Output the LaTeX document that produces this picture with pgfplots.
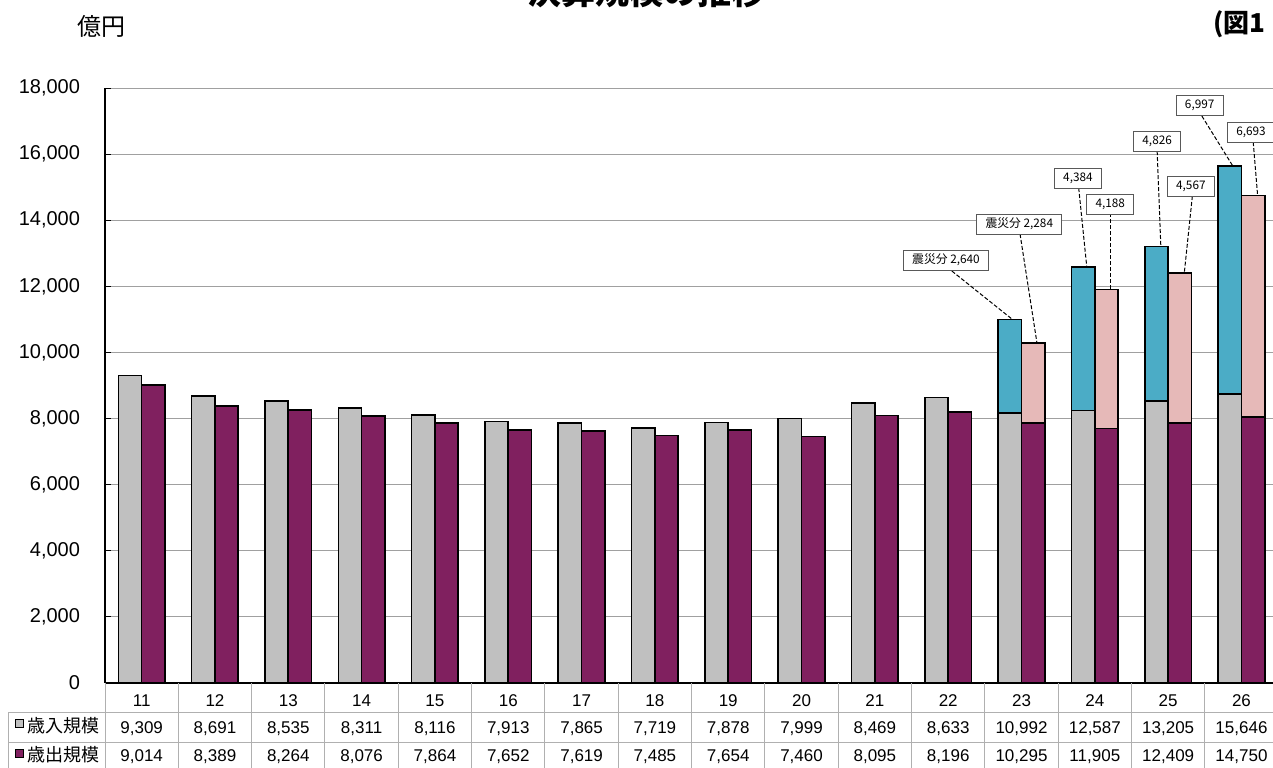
\documentclass[border=0pt]{standalone}
\usepackage{fontspec}
\setmainfont{Liberation Sans}
\newfontfamily\jp{Noto Sans CJK JP}
\usepackage{pgfplots}
\pgfplotsset{compat=1.18}
\definecolor{barGray}{HTML}{C0C0C0}
\definecolor{barPurple}{HTML}{80205F}
\definecolor{quakeBlue}{HTML}{4BACC6}
\definecolor{quakePink}{HTML}{E6B9B8}
\definecolor{gridGray}{HTML}{A0A0A0}
\definecolor{tabGray}{HTML}{B0B0B0}

\begin{document}
\begin{tikzpicture}[
  callout/.style={draw=gray!70!black, fill=white, line width=0.5pt,
    font=\jp\fontsize{5.9}{7}\selectfont, inner xsep=4.3pt, inner ysep=0pt,
    minimum height=10pt},
  leader/.style={black, line width=0.5pt, dash pattern=on 2pt off 1pt},
  bars/.style={ybar, bar width=11.65pt, draw=black, line width=0.8pt}]
\useasboundingbox (0,0) rectangle (636.5pt,-383.5pt);
\clip (0,0) rectangle (636.5pt,-383.5pt);

\begin{axis}[
  at={(52.5pt,-341.5pt)}, anchor=south west,
  scale only axis, width=584pt, height=297.5pt,
  xmin=-0.5, xmax=15.43, ymin=0, ymax=18000,
  clip=false,
  axis x line*=bottom, axis y line*=left,
  axis line style={black, line width=0.6pt},
  ymajorgrids, grid style={gridGray, line width=0.5pt},
  ytick={0,2000,...,18000},
  scaled y ticks=false,
  /pgf/number format/1000 sep={,},
  /pgf/number format/assume math mode=true,
  tick align=inside, major tick length=3pt,
  ytick style={black, line width=0.5pt},
  yticklabel style={anchor=east, xshift=-9pt, font=\fontsize{10}{12}\selectfont},
  xtick={0,...,15},
  xtick style={draw=none},
  xticklabels={{11\\9,309\\9,014},{12\\8,691\\8,389},{13\\8,535\\8,264},
    {14\\8,311\\8,076},{15\\8,116\\7,864},{16\\7,913\\7,652},{17\\7,865\\7,619},
    {18\\7,719\\7,485},{19\\7,878\\7,654},{20\\7,999\\7,460},{21\\8,469\\8,095},
    {22\\8,633\\8,196},{23\\10,992\\10,295},{24\\12,587\\11,905},
    {25\\13,205\\12,409},{26\\15,646\\14,750}},
  xticklabel style={align=center, anchor=north, inner sep=0pt, yshift=-5.6pt,
    font=\fontsize{8.5}{13.75}\selectfont},
]
% revenue: quake part drawn as total, normal part over it
\addplot[bars, bar shift=-5.83pt, fill=quakeBlue] coordinates {
  (12,10992) (13,12587) (14,13205) (15,15646)};
\addplot[bars, bar shift=-5.83pt, fill=barGray] coordinates {
  (0,9309) (1,8691) (2,8535) (3,8311) (4,8116) (5,7913) (6,7865) (7,7719)
  (8,7878) (9,7999) (10,8469) (11,8633) (12,8170) (13,8250) (14,8530) (15,8735)};
% expenditure
\addplot[bars, bar shift=5.83pt, fill=quakePink] coordinates {
  (12,10295) (13,11905) (14,12409) (15,14750)};
\addplot[bars, bar shift=5.83pt, fill=barPurple] coordinates {
  (0,9014) (1,8389) (2,8264) (3,8076) (4,7864) (5,7652) (6,7619) (7,7485)
  (8,7654) (9,7460) (10,8095) (11,8196) (12,7860) (13,7700) (14,7870) (15,8050)};

% table grid
\pgfplotsinvokeforeach{-0.5,0.5,...,15.5}{
  \draw[tabGray, line width=0.5pt] (axis cs:#1,0) -- (axis cs:#1,-3000);
}
\draw[tabGray, line width=0.5pt] (axis cs:-1.81,-877) -- (axis cs:16,-877);
\draw[tabGray, line width=0.5pt] (axis cs:-1.81,-1785) -- (axis cs:16,-1785);
\draw[tabGray, line width=0.5pt] (axis cs:-1.81,-877) -- (axis cs:-1.81,-3000);

% callouts
\draw[leader] (axis cs:11.05,12463) -- (axis cs:11.88,10992);
\node[callout] at (axis cs:10.97,12796) {震災分 2,640};
\draw[leader] (axis cs:11.98,13582) -- (axis cs:12.21,10295);
\node[callout] at (axis cs:11.97,13885) {震災分 2,284};
\draw[leader] (axis cs:12.78,14974) -- (axis cs:12.89,12587);
\node[callout] at (axis cs:12.77,15276) {4,384};
\draw[leader] (axis cs:13.21,14218) -- (axis cs:13.21,11905);
\node[callout] at (axis cs:13.21,14490) {4,188};
\draw[leader] (axis cs:13.85,16093) -- (axis cs:13.90,13205);
\node[callout] at (axis cs:13.85,16396) {4,826};
\draw[leader] (axis cs:14.33,14732) -- (axis cs:14.22,12409);
\node[callout] at (axis cs:14.31,15034) {4,567};
\draw[leader] (axis cs:14.46,17152) -- (axis cs:14.88,15646);
\node[callout] at (axis cs:14.43,17485) {6,997};
\draw[leader] (axis cs:15.16,16365) -- (axis cs:15.22,14750);
\node[callout] at (axis cs:15.13,16668) {6,693};
\end{axis}

% row labels of the table
\draw[black, line width=0.5pt, fill=barGray] (7.5pt,-359.5pt) rectangle (11.5pt,-363.5pt);
\draw[black, line width=0.5pt, fill=barPurple] (7.5pt,-374.5pt) rectangle (11.5pt,-378.5pt);
\node[anchor=west, inner sep=0pt, font=\jp\fontsize{9}{9}\selectfont] at (13.5pt,-363pt) {歳入規模};
\node[anchor=west, inner sep=0pt, font=\jp\fontsize{9}{9}\selectfont] at (13.5pt,-377.5pt) {歳出規模};

% titles
\node[anchor=base, font=\jp\bfseries\fontsize{17}{17}\selectfont] at (323pt,-2pt) {決算規模の推移};
\node[font=\jp\fontsize{12}{12}\selectfont] at (50.5pt,-13pt) {億円};
\node[anchor=west, inner sep=0pt, font=\jp\bfseries\fontsize{13}{13}\selectfont] at (606.5pt,-12pt) {(図1};
\end{tikzpicture}
\end{document}
